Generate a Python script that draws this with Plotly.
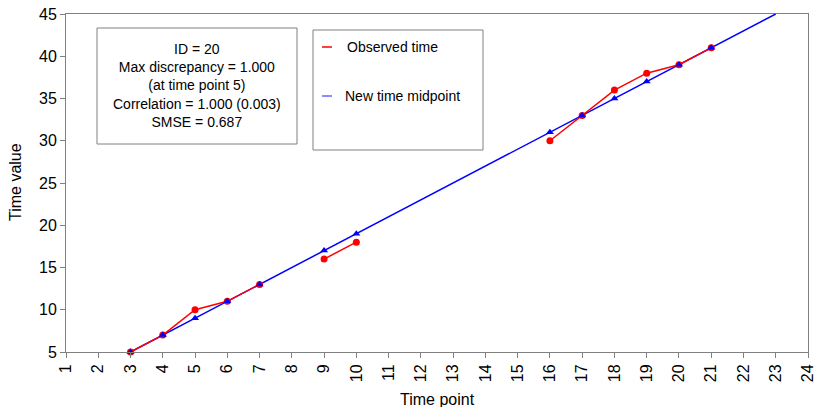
import plotly.graph_objects as go

obs_x = [3, 4, 5, 6, 7, None, 9, 10, None, 16, 17, 18, 19, 20, 21]
obs_y = [5, 7, 10, 11, 13, None, 16, 18, None, 30, 33, 36, 38, 39, 41]
mid_x = [3, 4, 5, 6, 7, 9, 10, 16, 17, 18, 19, 20, 21]
mid_y = [5, 7, 9, 11, 13, 17, 19, 31, 33, 35, 37, 39, 41]
line_x = [3, 23]
line_y = [5, 45]

info_lines = ["ID = 20", "Max discrepancy = 1.000", "(at time point 5)",
              "Correlation = 1.000 (0.003)", "SMSE = 0.687"]
legend_names = ["Observed time", "New time midpoint"]
red = "#ff0000"
blue = "#0000ff"

fig = go.Figure()
fig.add_trace(go.Scatter(x=line_x, y=line_y, mode="lines",
                         line=dict(color=blue, width=1.5), showlegend=False, cliponaxis=True))
fig.add_trace(go.Scatter(x=obs_x, y=obs_y, mode="lines+markers",
                         line=dict(color=red, width=1.5),
                         marker=dict(symbol="circle", size=7, color=red),
                         showlegend=False, connectgaps=False, cliponaxis=False))
fig.add_trace(go.Scatter(x=mid_x, y=mid_y, mode="markers",
                         marker=dict(symbol="triangle-up", size=7, color=blue),
                         showlegend=False, cliponaxis=False))

font = "Liberation Sans, Arial, sans-serif"
gray = "#808080"

W, H = 815, 407
L, R, T, B = 66, 808, 14, 352

axis_common = dict(showgrid=False, zeroline=False, showline=True, linecolor=gray,
                   mirror=True, ticks="outside", ticklen=5, tickcolor=gray,
                   tickfont=dict(size=16), automargin=False, ticklabeloverflow="allow")

fig.update_layout(
    width=W, height=H,
    margin=dict(l=L, r=W - R, t=T, b=H - B, autoexpand=False),
    paper_bgcolor="white", plot_bgcolor="white",
    font=dict(family=font, color="black"),
    xaxis=dict(range=[1, 24], dtick=1, tick0=1, tickangle=-90, **axis_common),
    yaxis=dict(range=[5, 45], dtick=5, tick0=5, **axis_common),
)

def px(x):
    return (x - L) / (R - L)
def py(y):
    return (B - y) / (B - T)

def note(x, y, text, size, **kw):
    fig.add_annotation(xref="paper", yref="paper", x=px(x), y=py(y), text=text,
                       showarrow=False, xanchor="center", yanchor="middle",
                       font=dict(size=size, family=font), **kw)

# axis titles
note(437, 399, "Time point", 16)
note(15, 182, "Time value", 16, textangle=-90)

# info box
fig.add_shape(type="rect", xref="paper", yref="paper",
              x0=px(97), x1=px(297), y0=py(144), y1=py(28),
              line=dict(color=gray, width=1), fillcolor="white", layer="above")
note(197, 86, "<br>".join(info_lines), 14, align="center")

# legend box
fig.add_shape(type="rect", xref="paper", yref="paper",
              x0=px(313), x1=px(483), y0=py(150), y1=py(30),
              line=dict(color=gray, width=1), fillcolor="white", layer="above")
for name, col, ly, tx in [(legend_names[0], red, 47, 392), (legend_names[1], "#6666ff", 96, 402)]:
    fig.add_shape(type="line", xref="paper", yref="paper",
                  x0=px(322), x1=px(332), y0=py(ly), y1=py(ly),
                  line=dict(color=col, width=1.5), layer="above")
    note(tx, ly, name, 14)

# remove the browser's default 8px page margin so the figure fills the window exactly
fig.write_html("out.html", config={"displayModeBar": False},
               post_script="document.body.style.margin='0';")
